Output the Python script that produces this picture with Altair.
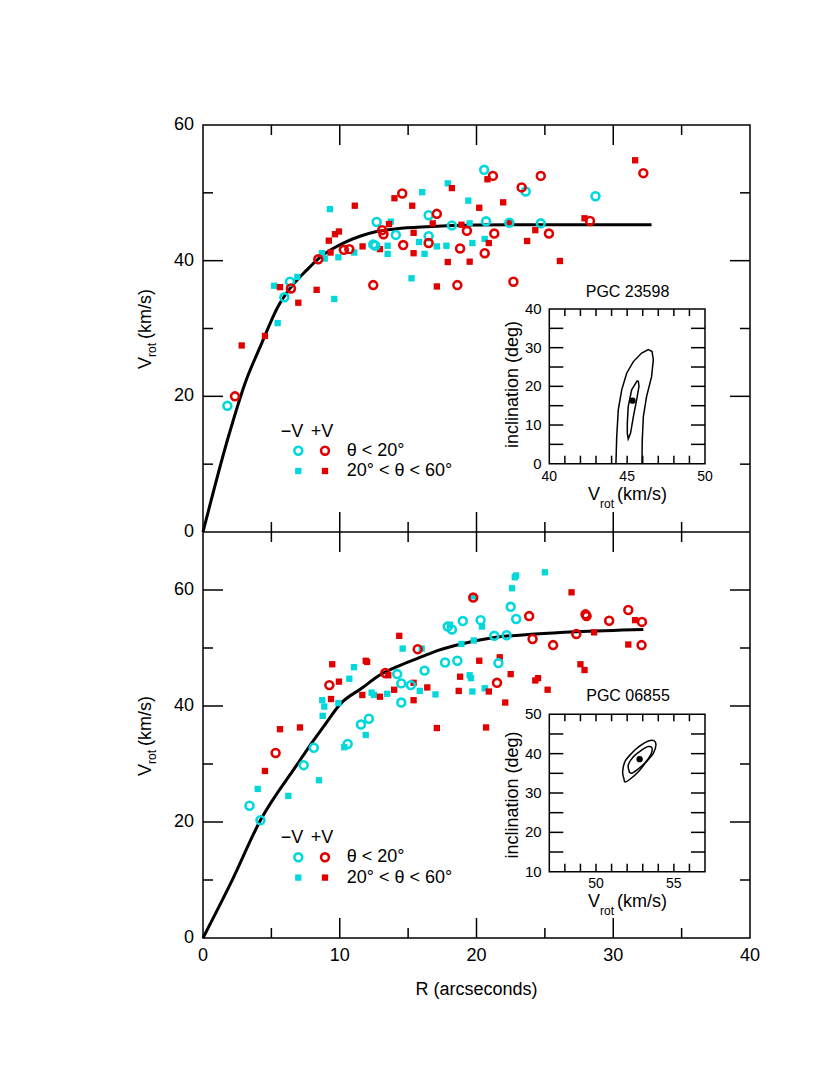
import altair as alt
import pandas as pd

FONT = "Liberation Sans"
CYAN = "#00d8dc"
RED = "#e00000"

# ---------------- data: PGC 23598 (top panel) ----------------
top_cc_R = [1.78, 5.95, 6.36, 12.45, 12.6, 12.7, 14.1, 16.5, 16.5, 18.2, 20.56, 20.7, 22.4, 23.6, 24.7, 28.7]
top_cc_V = [18.6, 34.6, 36.9, 42.4, 42.2, 45.7, 43.8, 46.7, 43.6, 45.2, 53.4, 45.8, 45.6, 50.2, 45.5, 49.5]

top_rc_R = [2.34, 6.43, 8.43, 10.3, 10.7, 12.45, 13.1, 13.2, 14.57, 14.64, 16.5, 17.1, 18.6, 18.8, 19.3, 20.6,
            21.2, 21.3, 22.7, 23.3, 24.7, 25.3, 28.3, 32.2]
top_rc_V = [20.0, 35.9, 40.2, 41.6, 41.7, 36.4, 44.5, 43.9, 49.9, 42.3, 42.6, 46.9, 36.4, 41.8, 44.4, 41.1,
            52.5, 44.0, 36.9, 50.8, 52.5, 44.0, 45.85, 52.9]

top_cs_R = [5.2, 5.46, 6.9, 8.7, 8.9, 9.28, 9.6, 9.9, 11.06, 13.5, 13.5, 13.74, 15.25, 15.8, 16.03, 16.2,
            17.1, 17.8, 17.9, 19.4, 19.5, 19.7, 20.6]
top_cs_V = [36.3, 30.8, 37.6, 41.1, 40.3, 47.6, 34.35, 40.5, 41.2, 42.2, 41.0, 45.75, 37.4, 42.75, 50.1, 41.0,
            42.1, 42.2, 51.4, 48.85, 45.5, 42.6, 43.2]

top_rs_R = [2.83, 4.53, 5.63, 6.97, 8.31, 9.2, 9.33, 9.65, 9.94, 11.1, 11.67, 12.94, 13.6, 14.0, 15.3, 15.4,
            15.4, 16.8, 17.1, 17.9, 18.2, 18.9, 19.5, 20.2, 20.8, 20.9, 21.95, 22.4, 23.7, 24.3, 26.1, 27.9, 31.6]
top_rs_V = [27.5, 28.9, 36.1, 33.8, 35.7, 42.95, 41.2, 43.9, 44.3, 48.1, 42.1, 41.7, 45.4, 49.2, 48.1, 44.1,
            41.1, 45.5, 36.2, 39.8, 50.7, 45.3, 39.85, 47.8, 52.0, 42.6, 48.6, 45.6, 42.9, 44.5, 39.95, 46.25, 54.8]

top_fit_R = [0, 1.85, 3.07, 4.29, 5.45, 6.48, 7.58, 8.55, 10.26, 11.48, 12.7, 14.16, 16.35, 20.0, 25.0, 32.8]
top_fit_V = [0, 14.0, 21.9, 27.8, 33.1, 36.2, 38.6, 40.5, 42.6, 43.6, 44.3, 44.7, 45.0, 45.25, 45.3, 45.3]

# inset contours PGC 23598 (Vrot, inclination)
ins1_outer_V = [44.28, 44.33, 44.43, 44.65, 44.97, 45.40, 45.93, 46.36, 46.60, 46.68, 46.57, 46.25, 46.04, 45.97, 45.95]
ins1_outer_i = [0.0, 7.0, 13.9, 19.1, 23.4, 26.4, 28.6, 29.5, 29.0, 26.9, 22.5, 17.4, 12.2, 6.1, 0.0]
ins1_inner_V = [45.65, 45.29, 45.07, 45.01, 45.01, 45.07, 45.22, 45.40, 45.61, 45.76, 45.72, 45.65]
ins1_inner_i = [21.5, 19.1, 14.8, 10.5, 7.9, 6.4, 7.9, 12.2, 16.5, 20.0, 21.3, 21.5]
ins1_best_V = [45.35]
ins1_best_i = [16.3]

# ---------------- data: PGC 06855 (bottom panel) ----------------
bot_cc_R = [3.4, 4.2, 7.36, 8.1, 10.58, 11.55, 12.13, 14.2, 14.5, 14.5, 15.2, 16.2, 17.7, 17.9, 18.2, 18.6,
            19.0, 20.3, 21.3, 21.6, 22.2, 22.5, 22.9]
bot_cc_V = [22.8, 20.3, 29.8, 32.8, 33.45, 36.8, 37.8, 45.5, 43.9, 40.6, 43.6, 46.1, 47.5, 53.7, 53.2, 47.8,
            54.65, 54.8, 52.1, 47.4, 52.2, 57.1, 55.0]

bot_rc_R = [5.31, 9.24, 13.33, 15.7, 19.76, 21.5, 23.85, 24.1, 25.6, 27.3, 27.97, 28.05, 29.7, 31.1, 32.07, 32.1]
bot_rc_V = [31.9, 43.6, 45.7, 49.8, 58.7, 44.0, 55.5, 51.55, 50.5, 52.4, 55.8, 55.5, 54.7, 56.55, 50.5, 54.5]

bot_cs_R = [4.0, 6.24, 8.48, 8.72, 8.75, 8.87, 9.9, 10.33, 10.7, 11.04, 11.9, 12.33, 12.5, 13.47, 14.6, 15.85,
            15.99, 17.0, 18.05, 18.9, 19.5, 19.6, 19.7, 19.8, 19.76, 20.4, 20.6, 22.6, 22.8, 22.9, 25.0]
bot_cs_V = [25.7, 24.5, 27.2, 41.0, 38.3, 39.9, 40.5, 32.9, 44.7, 46.7, 35.0, 42.3, 41.9, 42.1, 49.9, 42.6,
            49.9, 42.0, 54.0, 50.7, 45.3, 44.8, 42.5, 51.3, 58.9, 53.7, 43.05, 60.3, 62.2, 62.5, 63.05]

bot_rs_R = [4.53, 5.63, 7.09, 9.36, 9.45, 9.94, 11.65, 11.9, 12.0, 12.94, 13.55, 13.98, 14.35, 15.4, 15.4, 16.4,
            17.1, 18.7, 18.8, 20.2, 20.7, 20.9, 21.7, 22.1, 22.5, 24.3, 24.5, 25.2, 26.95, 27.6, 27.9, 28.6, 31.1, 31.6]
bot_rs_V = [28.8, 36.0, 36.3, 41.2, 47.2, 44.2, 41.9, 47.8, 47.6, 41.6, 45.3, 42.8, 52.1, 44.0, 41.0, 43.2,
            36.2, 42.6, 45.05, 47.8, 36.3, 42.5, 48.4, 40.6, 45.5, 44.4, 44.8, 42.8, 59.6, 47.2, 46.2, 52.7, 50.6, 54.8]

bot_fit_R = [0, 2.1, 4.2, 6.85, 8.06, 8.8, 10.1, 11.6, 12.9, 14.5, 16.0, 17.2, 18.9, 21.3, 24.3, 27.3, 32.2]
bot_fit_V = [0, 9.8, 20.3, 29.8, 34.0, 36.4, 40.5, 43.05, 45.3, 47.1, 48.5, 49.6, 50.7, 51.8, 52.4, 52.8, 53.2]

ins2_outer_V = [51.80, 51.71, 51.86, 52.29, 52.82, 53.36, 53.72, 53.85, 53.68, 53.25, 52.72, 52.18, 51.86, 51.80]
ins2_outer_i = [33.5, 35.4, 38.0, 40.1, 41.95, 43.2, 43.3, 42.2, 40.1, 38.0, 35.4, 33.5, 32.8, 33.5]
ins2_inner_V = [52.14, 52.07, 52.40, 52.93, 53.36, 53.60, 53.51, 53.15, 52.61, 52.29, 52.14]
ins2_inner_i = [35.4, 37.1, 39.2, 40.9, 41.8, 41.4, 39.7, 37.7, 35.8, 35.0, 35.4]
ins2_best_V = [52.8]
ins2_best_i = [38.6]

# axis tick values / labels
main_x_major = [10, 20, 30]
main_x_minor = [5, 15, 25, 35]
main_x_labels = [0, 10, 20, 30, 40]
top_y_major = [20, 40]
top_y_minor = [10, 30, 50]
top_y_labels = [0, 20, 40, 60]
bot_y_major = [20, 40, 60]
bot_y_minor = [10, 30, 50]
bot_y_labels = [0, 20, 40, 60]
ins1_x_ticks = [41, 42, 43, 44, 45, 46, 47, 48, 49]
ins1_y_ticks = [5, 10, 15, 20, 25, 30, 35]
ins1_x_labels = [40, 45, 50]
ins1_y_labels = [0, 10, 20, 30, 40]
ins2_x_ticks = [48, 49, 50, 51, 52, 53, 54, 55, 56]
ins2_y_ticks = [15, 20, 25, 30, 35, 40, 45]
ins2_x_labels = [50, 55]
ins2_y_labels = [10, 20, 30, 40, 50]

# ---------------- geometry ----------------
W = 547
HT = 407           # top panel height
H = 813            # both panels
XM = alt.Scale(domain=[0, 40], range=[0, W], nice=False, zero=False)
YT = alt.Scale(domain=[0, 60], range=[HT, 0], nice=False, zero=False)
YB = alt.Scale(domain=[0, 70], range=[H, HT], nice=False, zero=False)
IX0, IX1 = 346.3, 502.0
XI1 = alt.Scale(domain=[40, 50], range=[IX0, IX1], nice=False, zero=False)
YI1 = alt.Scale(domain=[0, 40], range=[338.7, 184.0], nice=False, zero=False)
XI2 = alt.Scale(domain=[47, 57], range=[IX0, IX1], nice=False, zero=False)
YI2 = alt.Scale(domain=[10, 50], range=[746.7, 589.3], nice=False, zero=False)

layers = []


def pts(R, V, xs, ys, color, kind):
    df = pd.DataFrame({"R": R, "V": V})
    if kind == "circle":
        m = alt.Chart(df).mark_point(shape="circle", filled=False, stroke=color, strokeWidth=2.6,
                                     size=62, opacity=1)
    else:
        m = alt.Chart(df).mark_point(shape="square", filled=True, color=color, size=40, opacity=1)
    return m.encode(x=alt.X("R:Q", scale=xs, axis=None), y=alt.Y("V:Q", scale=ys, axis=None))


def curve(X, Y, xs, ys, width, interp="linear"):
    df = pd.DataFrame({"a": X, "b": Y, "k": list(range(len(X)))})
    return alt.Chart(df).mark_line(color="black", strokeWidth=width, interpolate=interp).encode(
        x=alt.X("a:Q", scale=xs, axis=None), y=alt.Y("b:Q", scale=ys, axis=None), order=alt.Order("k:Q"))


def xticks(vals, xs, y0, y1, sw=1.5):
    df = pd.DataFrame({"t": vals})
    return alt.Chart(df).mark_rule(color="black", strokeWidth=sw).encode(
        x=alt.X("t:Q", scale=xs, axis=None), y=alt.value(y0), y2=alt.value(y1))


def yticks(vals, ys, x0, x1, sw=1.5):
    df = pd.DataFrame({"t": vals})
    return alt.Chart(df).mark_rule(color="black", strokeWidth=sw).encode(
        y=alt.Y("t:Q", scale=ys, axis=None), x=alt.value(x0), x2=alt.value(x1))


def txt(label, x, y, size=18, align="center", baseline="middle", angle=0):
    df = pd.DataFrame({"s": [label]})
    return alt.Chart(df).mark_text(font=FONT, fontSize=size, align=align, baseline=baseline,
                                   angle=angle, color="black").encode(
        text="s:N", x=alt.value(x), y=alt.value(y))


def xlabels(vals, xs, y, size):
    df = pd.DataFrame({"v": vals, "s": [str(v) for v in vals]})
    return alt.Chart(df).mark_text(font=FONT, fontSize=size, align="center", baseline="middle",
                                   color="black").encode(
        text="s:N", x=alt.X("v:Q", scale=xs, axis=None), y=alt.value(y))


def ylabels(vals, ys, x, size):
    df = pd.DataFrame({"v": vals, "s": [str(v) for v in vals]})
    return alt.Chart(df).mark_text(font=FONT, fontSize=size, align="right", baseline="middle",
                                   color="black").encode(
        text="s:N", y=alt.Y("v:Q", scale=ys, axis=None), x=alt.value(x))


def frame(x0, x1, y0, y1, xs, ys):
    df = pd.DataFrame({"a": [x0], "a2": [x1], "b": [y0], "b2": [y1]})
    return alt.Chart(df).mark_rect(fillOpacity=0, stroke="black", strokeWidth=1.5).encode(
        x=alt.X("a:Q", scale=xs, axis=None), x2="a2:Q",
        y=alt.Y("b:Q", scale=ys, axis=None), y2="b2:Q")


def legend_marks(dy):
    out = []
    one = pd.DataFrame({"s": [""]})
    out.append(alt.Chart(one).mark_point(shape="circle", filled=False, stroke=CYAN, strokeWidth=2.6, size=62,
                                         opacity=1).encode(x=alt.value(95.3), y=alt.value(325.7 + dy)))
    out.append(alt.Chart(one).mark_point(shape="circle", filled=False, stroke=RED, strokeWidth=2.6, size=62,
                                         opacity=1).encode(x=alt.value(122), y=alt.value(325.7 + dy)))
    out.append(alt.Chart(one).mark_point(shape="square", filled=True, color=CYAN, size=40,
                                         opacity=1).encode(x=alt.value(95.3), y=alt.value(346 + dy)))
    out.append(alt.Chart(one).mark_point(shape="square", filled=True, color=RED, size=40,
                                         opacity=1).encode(x=alt.value(122), y=alt.value(346 + dy)))
    out.append(txt("\u2212V", 89, 306.7 + dy))
    out.append(txt("+V", 119, 306.7 + dy))
    out.append(txt("\u03b8 < 20\u00b0", 143.7, 325.7 + dy, align="left"))
    out.append(txt("20\u00b0 < \u03b8 < 60\u00b0", 143.7, 346 + dy, align="left"))
    return out


def vrot_title_vertical(xc, y_start):
    # rotated "V_rot (km/s)" reading bottom to top
    return [txt("V", xc, y_start, align="left", angle=270),
            txt("rot", xc + 6, y_start - 12, size=12, align="left", angle=270),
            txt("(km/s)", xc, y_start - 30, align="left", angle=270)]


def vrot_title_horizontal(x_start, y):
    return [txt("V", x_start, y, align="left"),
            txt("rot", x_start + 12, y + 9, size=12, align="left"),
            txt("(km/s)", x_start + 29, y, align="left")]


# ---------------- top panel ----------------
layers.append(curve(top_fit_R, top_fit_V, XM, YT, 3, "monotone"))
layers.append(pts(top_cs_R, top_cs_V, XM, YT, CYAN, "square"))
layers.append(pts(top_rs_R, top_rs_V, XM, YT, RED, "square"))
layers.append(pts(top_cc_R, top_cc_V, XM, YT, CYAN, "circle"))
layers.append(pts(top_rc_R, top_rc_V, XM, YT, RED, "circle"))
# ticks
layers += [xticks(main_x_major, XM, HT, HT - 20), xticks(main_x_minor, XM, HT, HT - 10),
           xticks(main_x_major, XM, 0, 20), xticks(main_x_minor, XM, 0, 10),
           yticks(top_y_major, YT, 0, 20), yticks(top_y_minor, YT, 0, 10),
           yticks(top_y_major, YT, W, W - 20), yticks(top_y_minor, YT, W, W - 10)]
layers.append(ylabels(top_y_labels, YT, -9, 18))
layers += vrot_title_vertical(-57, 244)
layers += legend_marks(0)

# ---------------- bottom panel ----------------
layers.append(curve(bot_fit_R, bot_fit_V, XM, YB, 3, "monotone"))
layers.append(pts(bot_cs_R, bot_cs_V, XM, YB, CYAN, "square"))
layers.append(pts(bot_rs_R, bot_rs_V, XM, YB, RED, "square"))
layers.append(pts(bot_cc_R, bot_cc_V, XM, YB, CYAN, "circle"))
layers.append(pts(bot_rc_R, bot_rc_V, XM, YB, RED, "circle"))
layers += [xticks(main_x_major, XM, H, H - 20), xticks(main_x_minor, XM, H, H - 10),
           xticks(main_x_major, XM, HT, HT + 20), xticks(main_x_minor, XM, HT, HT + 10),
           yticks(bot_y_major, YB, 0, 20), yticks(bot_y_minor, YB, 0, 10),
           yticks(bot_y_major, YB, W, W - 20), yticks(bot_y_minor, YB, W, W - 10)]
layers.append(ylabels(bot_y_labels, YB, -9, 18))
layers += vrot_title_vertical(-57, 651)
layers += legend_marks(406.6)
layers.append(xlabels(main_x_labels, XM, 831, 18))
layers.append(txt("R (arcseconds)", W / 2, 865))

# separator between panels
layers.append(alt.Chart(pd.DataFrame({"s": [0]})).mark_rule(color="black", strokeWidth=1.5).encode(
    x=alt.value(0), x2=alt.value(W), y=alt.value(HT)))

# ---------------- inset 1 ----------------
layers.append(frame(40, 50, 0, 40, XI1, YI1))
layers.append(curve(ins1_outer_V, ins1_outer_i, XI1, YI1, 1.5))
layers.append(curve(ins1_inner_V, ins1_inner_i, XI1, YI1, 1.5))
layers.append(alt.Chart(pd.DataFrame({"a": ins1_best_V, "b": ins1_best_i})).mark_point(
    shape="circle", filled=True, color="black", size=40, opacity=1).encode(
    x=alt.X("a:Q", scale=XI1, axis=None), y=alt.Y("b:Q", scale=YI1, axis=None)))
layers += [xticks(ins1_x_ticks, XI1, 338.7, 330.7), xticks(ins1_x_ticks, XI1, 184.0, 191.0),
           yticks(ins1_y_ticks, YI1, IX0, IX0 + 14), yticks(ins1_y_ticks, YI1, IX1, IX1 - 14)]
layers.append(xlabels(ins1_x_labels, XI1, 351.5, 14))
layers.append(ylabels(ins1_y_labels, YI1, 338.7, 15))
layers.append(txt("inclination (deg)", 310, 259.5, angle=270))
layers += vrot_title_horizontal(385, 370)
layers.append(txt("PGC 23598", 424.5, 167, size=16))

# ---------------- inset 2 ----------------
layers.append(frame(47, 57, 10, 50, XI2, YI2))
layers.append(curve(ins2_outer_V, ins2_outer_i, XI2, YI2, 1.5, "cardinal-closed"))
layers.append(curve(ins2_inner_V, ins2_inner_i, XI2, YI2, 1.5, "cardinal-closed"))
layers.append(alt.Chart(pd.DataFrame({"a": ins2_best_V, "b": ins2_best_i})).mark_point(
    shape="circle", filled=True, color="black", size=40, opacity=1).encode(
    x=alt.X("a:Q", scale=XI2, axis=None), y=alt.Y("b:Q", scale=YI2, axis=None)))
layers += [xticks(ins2_x_ticks, XI2, 746.7, 738.7), xticks(ins2_x_ticks, XI2, 589.3, 596.3),
           yticks(ins2_y_ticks, YI2, IX0, IX0 + 14), yticks(ins2_y_ticks, YI2, IX1, IX1 - 14)]
layers.append(xlabels(ins2_x_labels, XI2, 758.5, 14))
layers.append(ylabels(ins2_y_labels, YI2, 338.7, 15))
layers.append(txt("inclination (deg)", 310, 670, angle=270))
layers += vrot_title_horizontal(385, 777)
layers.append(txt("PGC 06855", 425, 571, size=16))

chart = alt.layer(*layers).resolve_scale(x="independent", y="independent").properties(
    width=W, height=H,
    autosize=alt.AutoSizeParams(type="none"),
    padding={"left": 195, "top": 117, "right": 60, "bottom": 110},
    background="white",
).configure_view(stroke="black", strokeWidth=1.5)

chart.save("out.html", embed_options={"renderer": "svg", "actions": False})
